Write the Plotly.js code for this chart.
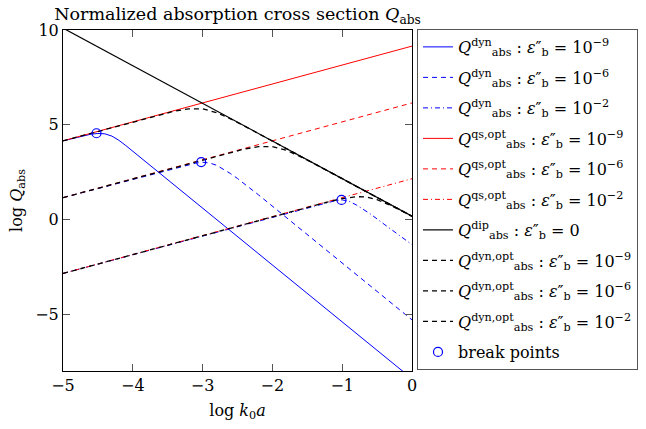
<!DOCTYPE html>
<html>
<head>
<meta charset="utf-8">
<script src="https://cdn.plot.ly/plotly-3.0.1.min.js"></script>
<style>html,body{margin:0;padding:0;background:#fff;}#chart{width:646px;height:429px;}</style>
</head>
<body>
<div id="chart"></div>
<script>
// ---- data ----
const xDyn9 = [-5, -4.8, -4.7, -4.6, -4.5, -4.4, -4.3, -4.2, -4.1, -4.0, -3.9, -3.8, -3.6, 0];
const yDyn9 = [4.15, 4.34, 4.43, 4.50, 4.54, 4.52, 4.40, 4.18, 3.90, 3.60, 3.30, 3.00, 2.39, -8.41];
const xDyn6 = [-5, -3.6, -3.4, -3.2, -3.1, -3.0, -2.9, -2.8, -2.7, -2.6, -2.5, -2.4, -2.2, 0];
const yDyn6 = [1.15, 2.52, 2.71, 2.89, 2.97, 3.02, 2.98, 2.86, 2.66, 2.42, 2.16, 1.88, 1.30, -5.30];
const xDyn2 = [-5, -1.4, -1.2, -1.1, -1.0, -0.9, -0.8, -0.7, -0.6, -0.4, -0.2, 0];
const yDyn2 = [-2.85, 0.73, 0.92, 0.99, 1.03, 0.96, 0.77, 0.54, 0.30, -0.25, -0.80, -1.33];

const xQs = [-5, 0];
const yQs9 = [4.15, 9.15];
const yQs6 = [1.15, 6.15];
const yQs2 = [-2.85, 2.15];

const xDip = [-5, 0];
const yDip = [10.1, 0.17];

const xOpt9 = [-5, -3.8, -3.6, -3.4, -3.2, -3.0, -2.8, -2.6, -2.4, 0];
const yOpt9 = [4.15, 5.35, 5.54, 5.72, 5.84, 5.84, 5.64, 5.31, 4.93, 0.17];
const xOpt6 = [-5, -2.8, -2.6, -2.4, -2.2, -2.0, -1.8, -1.6, -1.4, 0];
const yOpt6 = [1.15, 3.34, 3.53, 3.72, 3.84, 3.84, 3.65, 3.32, 2.94, 0.17];
const xOpt2 = [-5, -2.0, -1.2, -1.0, -0.8, -0.65, -0.5, -0.3, -0.1, 0];
const yOpt2 = [-2.85, 0.15, 0.93, 1.10, 1.20, 1.19, 1.04, 0.73, 0.35, 0.17];

const xBreak = [-4.52, -3.02, -1.01];
const yBreak = [4.55, 3.03, 1.03];

const xTicks = [-5, -4, -3, -2, -1, 0];
const yTicks = [-5, 0, 5, 10];

const labels = [
  '<i>Q</i><sup>dyn</sup><sub>abs</sub> : <i>ε</i>″<sub>b</sub> = 10<sup>−9</sup>',
  '<i>Q</i><sup>dyn</sup><sub>abs</sub> : <i>ε</i>″<sub>b</sub> = 10<sup>−6</sup>',
  '<i>Q</i><sup>dyn</sup><sub>abs</sub> : <i>ε</i>″<sub>b</sub> = 10<sup>−2</sup>',
  '<i>Q</i><sup>qs,opt</sup><sub>abs</sub> : <i>ε</i>″<sub>b</sub> = 10<sup>−9</sup>',
  '<i>Q</i><sup>qs,opt</sup><sub>abs</sub> : <i>ε</i>″<sub>b</sub> = 10<sup>−6</sup>',
  '<i>Q</i><sup>qs,opt</sup><sub>abs</sub> : <i>ε</i>″<sub>b</sub> = 10<sup>−2</sup>',
  '<i>Q</i><sup>dip</sup><sub>abs</sub> : <i>ε</i>″<sub>b</sub> = 0',
  '<i>Q</i><sup>dyn,opt</sup><sub>abs</sub> : <i>ε</i>″<sub>b</sub> = 10<sup>−9</sup>',
  '<i>Q</i><sup>dyn,opt</sup><sub>abs</sub> : <i>ε</i>″<sub>b</sub> = 10<sup>−6</sup>',
  '<i>Q</i><sup>dyn,opt</sup><sub>abs</sub> : <i>ε</i>″<sub>b</sub> = 10<sup>−2</sup>',
  'break points'
];

// ---- styles ----
const BLUE = 'rgb(0,0,255)', RED = 'rgb(255,0,0)', BLACK = 'rgb(0,0,0)';
const DASH = '5px,4px', DASHDOT = '5px,3px,1px,3px';
const FONT = 'DejaVu Serif, Liberation Serif, serif';

function ln(x, y, color, dash, width, i) {
  return {x: x, y: y, type: 'scatter', mode: 'lines', name: labels[i], legendgroup: 'g' + i,
          line: {color: color, dash: dash, width: width}, hoverinfo: 'skip'};
}

const traces = [
  ln(xDyn9, yDyn9, BLUE, 'solid', 1, 0),
  ln(xDyn6, yDyn6, BLUE, DASH, 1, 1),
  ln(xDyn2, yDyn2, BLUE, DASHDOT, 1, 2),
  ln(xQs, yQs9, RED, 'solid', 1, 3),
  ln(xQs, yQs6, RED, DASH, 1, 4),
  ln(xQs, yQs2, RED, DASHDOT, 1, 5),
  ln(xDip, yDip, BLACK, 'solid', 1.2, 6),
  ln(xOpt9, yOpt9, BLACK, DASH, 1.3, 7),
  ln(xOpt6, yOpt6, BLACK, DASH, 1.3, 8),
  ln(xOpt2, yOpt2, BLACK, DASH, 1.3, 9),
  {x: xBreak, y: yBreak, type: 'scatter', mode: 'markers', name: labels[10], legendgroup: 'g10',
   marker: {symbol: 'circle-open', size: 9, color: BLUE, line: {width: 1.2, color: BLUE}}, hoverinfo: 'skip'}
];

const axisCommon = {
  showline: true, linecolor: BLACK, linewidth: 1, mirror: 'ticks',
  ticks: 'inside', ticklen: 7, tickwidth: 1, tickcolor: '#555',
  showgrid: false, zeroline: false,
  tickfont: {family: FONT, size: 16, color: BLACK}
};

const layout = {
  width: 646, height: 429,
  margin: {l: 63, r: 234, t: 30, b: 58, autoexpand: false},
  paper_bgcolor: 'white', plot_bgcolor: 'white',
  font: {family: FONT, size: 16, color: BLACK},
  title: {text: 'Normalized absorption cross section <i>Q</i><sub>abs</sub>',
          font: {family: FONT, size: 17.5, color: BLACK},
          x: 0.5, xref: 'paper', xanchor: 'center', y: 1 - 14 / 429, yref: 'container', yanchor: 'middle'},
  xaxis: Object.assign({}, axisCommon, {
    range: [-5, 0], tickmode: 'array', tickvals: xTicks,
    title: {text: 'log <i>k</i><sub>0</sub><i>a</i>', font: {family: FONT, size: 16, color: BLACK}, standoff: 10}
  }),
  yaxis: Object.assign({}, axisCommon, {
    range: [-8, 10], tickmode: 'array', tickvals: yTicks,
    title: {text: 'log <i>Q</i><sub>abs</sub>', font: {family: FONT, size: 16, color: BLACK}, standoff: 8}
  }),
  showlegend: true,
  legend: {
    x: (417 - 63) / 349, xanchor: 'left', y: 1.003, yanchor: 'top',
    bgcolor: 'white', bordercolor: '#555', borderwidth: 1,
    font: {family: FONT, size: 16, color: BLACK},
    tracegroupgap: 6.7, traceorder: 'grouped', maxheight: 1
  }
};

Plotly.newPlot('chart', traces, layout, {staticPlot: true, displayModeBar: false});
</script>
</body>
</html>
